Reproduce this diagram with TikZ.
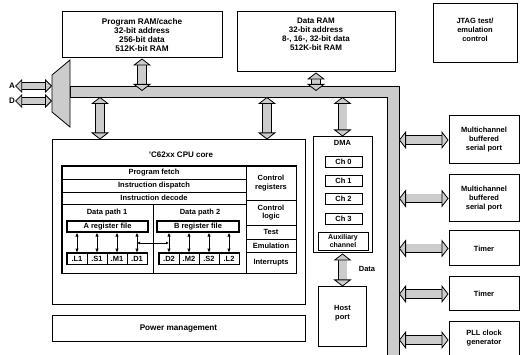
\documentclass[tikz,border=0pt]{standalone}
\usepackage{fontspec}
\setmainfont{Liberation Sans}
\usetikzlibrary{arrows.meta}

\begin{document}
\begin{tikzpicture}[x=1pt,y=-1pt,
  blk/.style={draw,line width=1pt,align=center,inner sep=1pt,font=\fontsize{7.5}{9}\selectfont\bfseries},
  cell/.style={draw,line width=0.7pt,align=center,inner sep=0pt,font=\fontsize{7.5}{8.5}\selectfont\bfseries},
  txt/.style={inner sep=0pt,font=\fontsize{7.5}{8.5}\selectfont\bfseries},
  fat/.style={draw=black,line width=0.8pt,double=gray!40,double distance=8pt,
    {Triangle[width=18pt,length=7pt,fill=gray!40]}-{Triangle[width=18pt,length=7pt,fill=gray!40]}},
  fatsm/.style={draw=black,line width=0.8pt,double=gray!40,double distance=6pt,
    {Triangle[width=14pt,length=7pt,fill=gray!40]}-{Triangle[width=14pt,length=7pt,fill=gray!40]}},
  dbl/.style={line width=0.8pt,{Latex[length=4pt,width=3.5pt]}-{Latex[length=4pt,width=3.5pt]}},
  xdbl/.style={line width=0.6pt,{Latex[length=3pt,width=3pt]}-{Latex[length=3pt,width=3pt]}}]
\useasboundingbox (0,0) rectangle (528,355);

% memories and jtag
\node[blk,font=\fontsize{8.2}{9}\selectfont\bfseries,minimum width=160pt,minimum height=46pt] (prog) at (142,35)
  {Program RAM/cache\\32-bit address\\256-bit data\\512K-bit RAM};
\node[blk,font=\fontsize{8}{9}\selectfont\bfseries,minimum width=158pt,minimum height=60pt,text depth=16pt] (dram) at (316,42)
  {Data RAM\\32-bit address\\8-, 16-, 32-bit data\\512K-bit RAM};
\node[blk,minimum width=84pt,minimum height=59pt,text depth=8pt] (jtag) at (475,33.5)
  {JTAG test/\\emulation\\control};

% bus and mux
\filldraw[fill=gray!40,line width=0.8pt] (70,86) -- (399,86) -- (399,360) -- (387,360)
  -- (387,97) -- (70,97) -- cycle;
\filldraw[fill=gray!40,line width=0.8pt] (52,75) -- (70,60) -- (70,127) -- (52,112) -- cycle;
\coordinate (bm) at (0,91);
\coordinate (bb) at (0,97);
\coordinate (br) at (399,0);
\coordinate (ml) at (52,0);
\coordinate (cp1) at (100,0);
\coordinate (cp2) at (267,0);

\node[txt,font=\fontsize{8}{9}\selectfont\bfseries] (la) at (12,86) {A};
\node[txt,font=\fontsize{8}{9}\selectfont\bfseries] (ld) at (12,101) {D};

% cpu core
\node[blk,minimum width=253pt,minimum height=165pt] (cpu) at (178.5,222.5) {};
\node[txt,font=\fontsize{8}{9}\selectfont\bfseries] (cpul) at (181,155) {'C62xx CPU core};
\node[cell,minimum width=184pt,minimum height=13pt] (pf) at (154,172.5) {Program fetch};
\node[cell,minimum width=184pt,minimum height=13pt] (idisp) at (154,185.5) {Instruction dispatch};
\node[cell,minimum width=184pt,minimum height=12pt] (idec) at (154,198) {Instruction decode};
\node[cell,minimum width=91pt,minimum height=69pt] (dp1) at (107.5,238.5) {};
\node[cell,minimum width=93pt,minimum height=69pt] (dp2) at (199.5,238.5) {};
\node[cell,minimum width=50pt,minimum height=34pt] (creg) at (271,183) {Control\\registers};
\node[cell,minimum width=50pt,minimum height=25pt] (clog) at (271,212.5) {Control\\logic};
\node[cell,minimum width=50pt,minimum height=14pt] (test) at (271,232) {Test};
\node[cell,minimum width=50pt,minimum height=13pt] (emu) at (271,245.5) {Emulation};
\node[cell,minimum width=50pt,minimum height=21pt] (intr) at (271,262.5) {Interrupts};
\draw[line width=1.3pt] (pf.north west) rectangle (intr.south east);

\node[txt] (dp1l) at (107,213) {Data path 1};
\node[txt] (dp2l) at (200,213) {Data path 2};
\node[cell,line width=1.2pt,minimum width=81pt,minimum height=11pt] (aref) at (107.5,226.5) {A register file};
\node[cell,line width=1.2pt,minimum width=82pt,minimum height=11pt] (bref) at (198,226.5) {B register file};
\node[cell,minimum width=20pt,minimum height=11pt] (l1) at (77,258.5) {.L1};
\node[cell,minimum width=20pt,minimum height=11pt] (s1) at (97,258.5) {.S1};
\node[cell,minimum width=20pt,minimum height=11pt] (m1) at (117,258.5) {.M1};
\node[cell,minimum width=20pt,minimum height=11pt] (d1) at (137,258.5) {.D1};
\node[cell,minimum width=20pt,minimum height=11pt] (d2) at (169,258.5) {.D2};
\node[cell,minimum width=20pt,minimum height=11pt] (m2) at (189,258.5) {.M2};
\node[cell,minimum width=20pt,minimum height=11pt] (s2) at (209,258.5) {.S2};
\node[cell,minimum width=20pt,minimum height=11pt] (l2) at (229,258.5) {.L2};
\draw[line width=1.2pt] (l1.north west) rectangle (d1.south east);
\draw[line width=1.2pt] (d2.north west) rectangle (l2.south east);
\foreach \u in {l1,s1,m1,d1}
  \draw[dbl] (\u.north) -- (\u.north |- aref.south);
\foreach \u in {d2,m2,s2,l2}
  \draw[dbl] (\u.north) -- (\u.north |- bref.south);
\coordinate (xp) at (0,243);
\draw[xdbl] (d1.north |- xp) -- (d2.north |- xp);

\node[blk,font=\fontsize{8.2}{9}\selectfont\bfseries,minimum width=253pt,minimum height=26pt] (pwr) at (178.5,329) {Power management};

% dma and host port
\node[blk,minimum width=59pt,minimum height=116pt,
  label={[txt,anchor=north,yshift=-4pt]north:DMA}] (dma) at (342.5,195) {};
\node[cell,minimum width=37pt,minimum height=11pt] (ch0) at (343.5,161.5) {Ch 0};
\node[cell,minimum width=37pt,minimum height=11pt] (ch1) at (343.5,180.5) {Ch 1};
\node[cell,minimum width=37pt,minimum height=11pt] (ch2) at (343.5,198.5) {Ch 2};
\node[cell,minimum width=37pt,minimum height=11pt] (ch3) at (343.5,218.5) {Ch 3};
\node[cell,minimum width=50pt,minimum height=18pt,font=\fontsize{7}{7.5}\selectfont\bfseries] (aux) at (343,241) {Auxiliary\\channel};
\node[blk,minimum width=48pt,minimum height=60pt,text depth=10pt] (host) at (342.5,317) {Host\\port};
\node[txt] (datal) at (367,269) {Data};

% peripherals
\node[blk,minimum width=70pt,minimum height=48pt] (mc1) at (484,140) {Multichannel\\buffered\\serial port};
\node[blk,minimum width=70pt,minimum height=47pt] (mc2) at (484,198.5) {Multichannel\\buffered\\serial port};
\node[blk,minimum width=70pt,minimum height=35pt] (tm1) at (484,248.5) {Timer};
\node[blk,minimum width=70pt,minimum height=34pt] (tm2) at (484,294) {Timer};
\node[blk,minimum width=70pt,minimum height=36pt,text depth=6pt] (pll) at (484,340) {PLL clock\\generator};

% fat arrows
\draw[fatsm] (la.east) -- (la.east -| ml);
\draw[fatsm] (ld.east) -- (ld.east -| ml);
\draw[fat] (prog.south) -- (prog.south |- bm);
\draw[fat] (dram.south) -- (dram.south |- bm);
\draw[fat] (cp1 |- bb) -- (cp1 |- cpu.north);
\draw[fat] (cp2 |- bb) -- (cp2 |- cpu.north);
\draw[fat] (dma.north |- bb) -- (dma.north);
\draw[fat] (dma.south) -- (host.north);
\foreach \p in {mc1,mc2,tm1,tm2,pll}
  \draw[fat] (\p.west -| br) -- (\p.west);
\end{tikzpicture}
\end{document}
